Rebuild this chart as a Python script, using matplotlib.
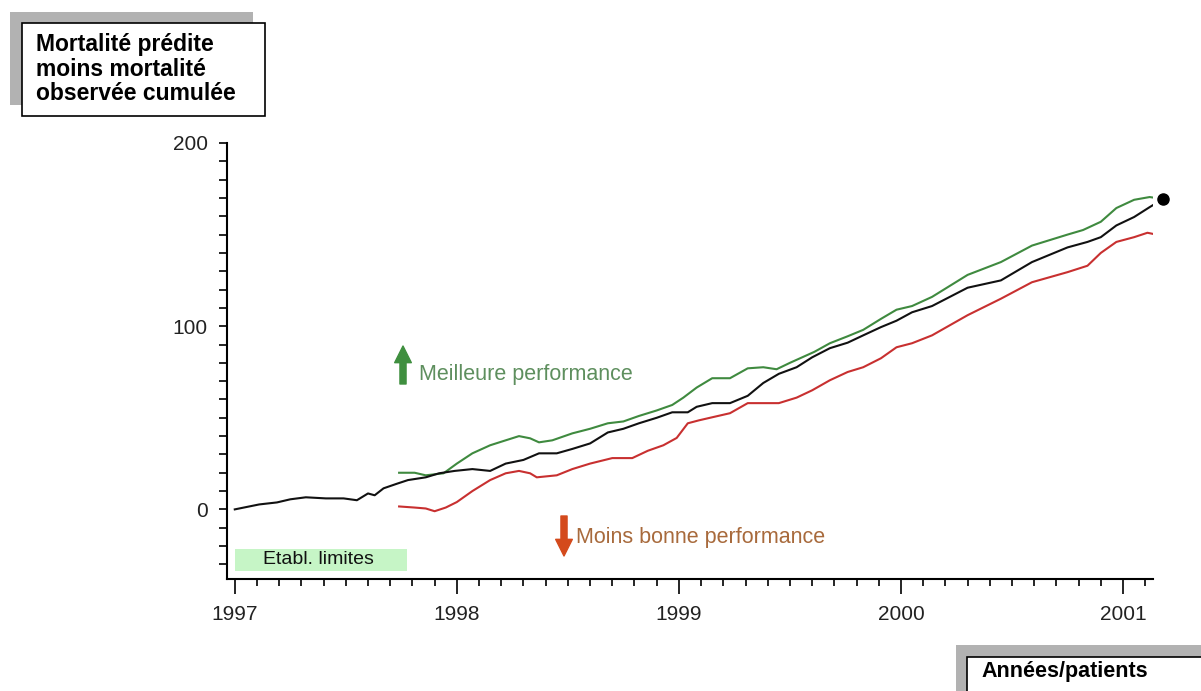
import matplotlib

matplotlib.use("Agg")
import matplotlib.pyplot as plt
from matplotlib.patches import Rectangle, FancyArrowPatch
from matplotlib.ticker import MultipleLocator

W, H = 1201, 691

black_years = [1997.00, 1997.11, 1997.19, 1997.25, 1997.32, 1997.41, 1997.49, 1997.55, 1997.60,
               1997.63, 1997.67, 1997.73, 1997.78, 1997.86, 1997.92, 1997.99, 1998.07, 1998.15,
               1998.22, 1998.30, 1998.37, 1998.45, 1998.52, 1998.60, 1998.68, 1998.75, 1998.82,
               1998.90, 1998.97, 1999.04, 1999.08, 1999.15, 1999.23, 1999.31, 1999.38, 1999.45,
               1999.53, 1999.60, 1999.68, 1999.76, 1999.83, 1999.91, 1999.98, 2000.05, 2000.14,
               2000.30, 2000.45, 2000.59, 2000.75, 2000.84, 2000.90, 2000.97, 2001.05, 2001.12,
               2001.18]
black_values = [0, 2.7, 3.8, 5.5, 6.6, 6, 6, 5, 8.7,
                7.7, 11.5, 14, 16, 17.5, 19.7, 21, 22, 21,
                25, 27, 30.6, 30.6, 33, 36, 42, 44, 47,
                50, 53, 53, 56, 58, 58, 62, 69, 74,
                77.6, 83, 88, 91, 95, 99.5, 103, 107.6, 111,
                121, 125, 135, 143, 146, 148.6, 155, 159.6, 165,
                169.4]

green_years = [1997.74, 1997.81, 1997.86, 1997.94, 1998.00, 1998.07, 1998.15, 1998.22, 1998.28,
               1998.33, 1998.37, 1998.43, 1998.52, 1998.60, 1998.68, 1998.75, 1998.82, 1998.90,
               1998.97, 1999.02, 1999.08, 1999.15, 1999.23, 1999.31, 1999.38, 1999.44, 1999.50,
               1999.61, 1999.68, 1999.76, 1999.83, 1999.91, 1999.98, 2000.05, 2000.14, 2000.30,
               2000.45, 2000.59, 2000.67, 2000.75, 2000.82, 2000.90, 2000.97, 2001.05, 2001.12,
               2001.18]
green_values = [20, 20, 18.6, 19.7, 25, 30.6, 35, 37.7, 40,
                38.8, 36.6, 37.7, 41.5, 44, 47, 48, 51, 54,
                57, 61, 66.5, 71.6, 71.6, 77, 77.6, 76.5, 80,
                86, 90.7, 94.5, 98, 104, 109, 111, 116, 128,
                135, 144, 147, 150, 152.5, 157, 164.5, 169, 170.5,
                169.4]

red_years = [1997.74, 1997.81, 1997.86, 1997.90, 1997.95, 1998.00, 1998.07, 1998.15, 1998.22,
             1998.28, 1998.33, 1998.36, 1998.45, 1998.52, 1998.60, 1998.70, 1998.79, 1998.86,
             1998.93, 1998.99, 1999.04, 1999.09, 1999.14, 1999.23, 1999.31, 1999.40, 1999.45,
             1999.53, 1999.60, 1999.68, 1999.76, 1999.83, 1999.91, 1999.98, 2000.05, 2000.14,
             2000.30, 2000.45, 2000.59, 2000.75, 2000.84, 2000.90, 2000.97, 2001.05, 2001.11,
             2001.15]
red_values = [1.6, 1, 0.5, -1, 1, 4, 10, 16, 19.7,
              21, 19.7, 17.5, 18.6, 22, 25, 28, 28, 32,
              35, 39, 47, 48.6, 50, 52.5, 58, 58, 58,
              61, 65, 70.5, 75, 77.6, 82.5, 88.5, 90.7, 95,
              106, 115, 124, 129.5, 133, 140, 146, 148.6, 151,
              150]

year_ticks = [1997, 1998, 1999, 2000, 2001]
value_ticks = [0, 100, 200]
ylabel_lines = ["Mortalité prédite", "moins mortalité", "observée cumulée"]

FONT = ["Liberation Sans", "DejaVu Sans"]


def fx(x):
    return x / W


def fy(y):
    return 1 - y / H


def shadow_box(fig, x0, y0, x1, y1, dx, dy):
    # grey drop shadow up-left, white box with black frame on top
    fig.patches.append(Rectangle((fx(x0 - dx), fy(y1 - dy)), (x1 - x0) / W, (y1 - y0) / H,
                                 transform=fig.transFigure, facecolor="#b2b2b2",
                                 edgecolor="none", zorder=1))
    fig.patches.append(Rectangle((fx(x0), fy(y1)), (x1 - x0) / W, (y1 - y0) / H,
                                 transform=fig.transFigure, facecolor="white",
                                 edgecolor="black", linewidth=1.2, zorder=2))


fig = plt.figure(figsize=(W / 100, H / 100), dpi=100)
ax = fig.add_axes([fx(227), fy(579), (1153 - 227) / W, (579 - 143) / H])

ax.plot(green_years, green_values, color="#3f8a3f", linewidth=1.5)
ax.plot(red_years, red_values, color="#c83030", linewidth=1.5)
ax.plot(black_years, black_values, color="#111111", linewidth=1.5)
ax.plot(black_years[-1], black_values[-1], "o", color="black", markersize=8, clip_on=False)

ax.set_xlim(1996.965, 2001.135)
ax.set_ylim(-38, 200)
ax.set_xticks(year_ticks)
ax.set_xticklabels([str(y) for y in year_ticks])
ax.xaxis.set_minor_locator(MultipleLocator(0.1))
ax.set_yticks(value_ticks)
ax.yaxis.set_minor_locator(MultipleLocator(10))

for side in ("top", "right"):
    ax.spines[side].set_visible(False)
for side in ("left", "bottom"):
    ax.spines[side].set_linewidth(1.5)
ax.spines["left"].set_bounds(-38, 200)

ax.tick_params(axis="x", which="major", length=11, width=1.2, pad=8,
               labelsize=15, labelcolor="#222222")
ax.tick_params(axis="x", which="minor", length=5, width=1.2)
ax.tick_params(axis="y", which="both", length=6, width=1.2, pad=8,
               labelsize=15, labelcolor="#222222")
for lab in ax.get_xticklabels() + ax.get_yticklabels():
    lab.set_family(FONT)

# calibration period band
ax.add_patch(Rectangle((1997.0, -33.5), 0.775, 12, facecolor="#c6f5c6",
                       edgecolor="none", zorder=0))
ax.text(1997.125, -27.5, "Etabl. limites", fontsize=14, family=FONT,
        color="#111111", va="center", ha="left")

# direction hints
fig.patches.append(FancyArrowPatch((fx(403), fy(384)), (fx(403), fy(346)),
                                   transform=fig.transFigure,
                                   arrowstyle="simple,head_length=0.6,head_width=0.6,tail_width=0.22",
                                   mutation_scale=20, shrinkA=0, shrinkB=0,
                                   color="#3f8f3f", zorder=3))
fig.text(fx(419), fy(374), "Meilleure performance", fontsize=15.5, family=FONT,
         color="#5e8f5e", va="center", ha="left")

fig.patches.append(FancyArrowPatch((fx(564), fy(516)), (fx(564), fy(556)),
                                   transform=fig.transFigure,
                                   arrowstyle="simple,head_length=0.6,head_width=0.6,tail_width=0.22",
                                   mutation_scale=20, shrinkA=0, shrinkB=0,
                                   color="#d44a1c", zorder=3))
fig.text(fx(576), fy(537), "Moins bonne performance", fontsize=15.5, family=FONT,
         color="#a86a3c", va="center", ha="left")

# axis titles in shadowed boxes
shadow_box(fig, 22, 23, 265, 116, 12, 11)
for i, line in enumerate(ylabel_lines):
    fig.text(fx(36), fy(44 + 25 * i), line, fontsize=16.5, fontweight="bold",
             family=FONT, color="black", va="center", ha="left", zorder=3)

shadow_box(fig, 967, 657, 1215, 705, 11, 12)
fig.text(fx(981), fy(671), "Années/patients", fontsize=15.5, fontweight="bold",
         family=FONT, color="black", va="center", ha="left", zorder=3)

fig.savefig("out.png", dpi=100)
